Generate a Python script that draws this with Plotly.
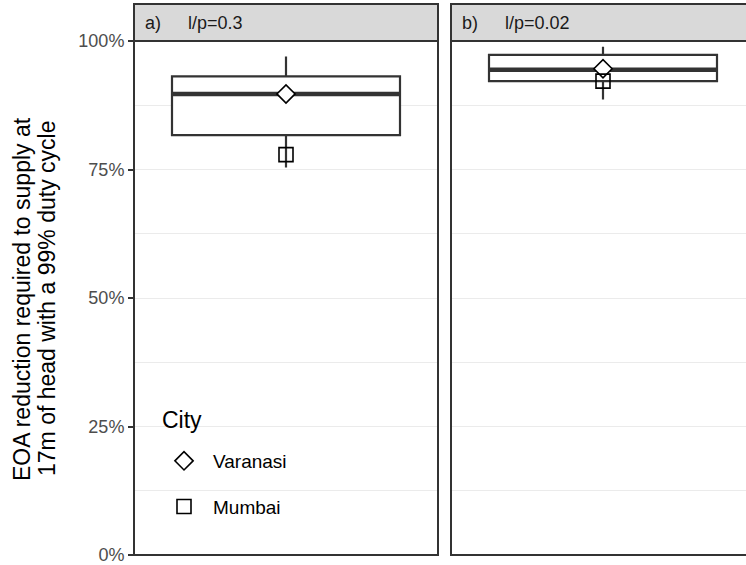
import plotly.graph_objects as go

# ---- data ----
PANEL_TAGS = ["a)", "b)"]
PANEL_LABELS = ["l/p=0.3", "l/p=0.02"]
CITIES = ["Varanasi", "Mumbai"]
LEGEND_TITLE = "City"
BOX_LOWER = [0.754, 0.886]
BOX_Q1 = [0.817, 0.922]
BOX_MEDIAN = [0.897, 0.944]
BOX_Q3 = [0.931, 0.973]
BOX_UPPER = [0.970, 0.989]
VARANASI = [0.897, 0.946]
MUMBAI = [0.779, 0.922]
Y_TICKS = [0, 0.25, 0.5, 0.75, 1.0]
Y_TICK_LABELS = ["0%", "25%", "50%", "75%", "100%"]
Y_MINOR = [0.125, 0.375, 0.625, 0.875]

# ---- layout geometry (pixels) ----
W, H = 746, 565
ML, MR, MT, MB = 134, 0, 4, 10
PW, PH = W - ML - MR, H - MT - MB
PANEL_W = 304
PANEL_LEFT = [134, 451]
STRIP_TOP, STRIP_BOT, PANEL_BOT = 4, 41, 555
BOX_W = 0.9
HALF_RANGE = 0.6

def px_x(p):
    return (p - ML) / PW

def px_y(p):
    return (H - MB - p) / PH

BORDER = "#333333"
GRID = "#EBEBEB"
FONT = "Liberation Sans, Arial, sans-serif"

fig = go.Figure()
symbols = {"Varanasi": "diamond", "Mumbai": "square-open"}
city_vals = {"Varanasi": VARANASI, "Mumbai": MUMBAI}

for i in range(2):
    xa = "x" if i == 0 else "x2"
    ya = "y" if i == 0 else "y2"
    fig.add_trace(go.Box(
        x=[0], q1=[BOX_Q1[i]], median=[BOX_MEDIAN[i]], q3=[BOX_Q3[i]],
        lowerfence=[BOX_LOWER[i]], upperfence=[BOX_UPPER[i]],
        width=BOX_W, whiskerwidth=0, boxpoints=False,
        fillcolor="white", line=dict(color=BORDER, width=2.2),
        showlegend=False, hoverinfo="skip", xaxis=xa, yaxis=ya))
    fig.add_trace(go.Scatter(
        x=[-BOX_W / 2, BOX_W / 2], y=[BOX_MEDIAN[i], BOX_MEDIAN[i]],
        mode="lines", line=dict(color=BORDER, width=4.5),
        showlegend=False, hoverinfo="skip", xaxis=xa, yaxis=ya))
    for c in CITIES:
        m = dict(symbol=symbols[c], size=14,
                 line=dict(color="black", width=1.6))
        m["color"] = "white" if c == "Varanasi" else "black"
        fig.add_trace(go.Scatter(
            x=[0], y=[city_vals[c][i]], mode="markers", name=c,
            marker=m, legendgroup=c, showlegend=(i == 0),
            xaxis=xa, yaxis=ya))

ydom = [0, px_y(STRIP_BOT)]
common_y = dict(range=[0, 1], domain=ydom, showgrid=True, gridcolor=GRID,
                gridwidth=1.2, tickvals=Y_TICKS, zeroline=False,
                minor=dict(tickvals=Y_MINOR, showgrid=True, gridcolor=GRID,
                           gridwidth=0.8, ticks=""),
                showline=False, automargin=False)
fig.update_layout(
    width=W, height=H,
    margin=dict(l=ML, r=MR, t=MT, b=MB, autoexpand=False),
    paper_bgcolor="white", plot_bgcolor="white",
    font=dict(family=FONT, color="black"),
    xaxis=dict(domain=[0, px_x(PANEL_LEFT[0] + PANEL_W)],
               range=[-HALF_RANGE, HALF_RANGE], showgrid=False,
               showticklabels=False, ticks="", zeroline=False, automargin=False),
    xaxis2=dict(domain=[px_x(PANEL_LEFT[1]), 1],
                range=[-HALF_RANGE, -HALF_RANGE + 2 * HALF_RANGE * (W - PANEL_LEFT[1]) / PANEL_W],
                showgrid=False, showticklabels=False, ticks="", zeroline=False,
                anchor="y2", automargin=False),
    yaxis=dict(**common_y, ticktext=Y_TICK_LABELS, ticks="outside",
               ticklen=5, tickwidth=2, tickcolor=BORDER,
               ticklabeloverflow="allow",
               tickfont=dict(size=18, color="#4D4D4D")),
    yaxis2=dict(**common_y, showticklabels=False, ticks="", anchor="x2"),
    legend=dict(x=px_x(155), y=px_y(442), xanchor="left", yanchor="top",
                bgcolor="rgba(0,0,0,0)", borderwidth=0, itemwidth=48,
                font=dict(size=19, color="black"),
                tracegroupgap=18),
    showlegend=True,
)

shapes = [dict(type="rect", xref="paper", yref="paper",
               x0=px_x(146), x1=px_x(304), y0=px_y(545), y1=px_y(398),
               fillcolor="white", line=dict(width=0), layer="between")]
annotations = [dict(text=LEGEND_TITLE, xref="paper", yref="paper",
                    x=px_x(160), y=px_y(420), xanchor="left", yanchor="middle",
                    showarrow=False, font=dict(size=23, color="black"))]
for i in range(2):
    x0 = px_x(PANEL_LEFT[i])
    x1 = px_x(PANEL_LEFT[i] + PANEL_W)
    shapes.append(dict(type="rect", xref="paper", yref="paper",
                       x0=x0, x1=x1, y0=px_y(STRIP_BOT), y1=px_y(STRIP_TOP),
                       fillcolor="#D9D9D9", line=dict(color=BORDER, width=2),
                       layer="above"))
    shapes.append(dict(type="rect", xref="paper", yref="paper",
                       x0=x0, x1=x1, y0=0, y1=px_y(STRIP_BOT),
                       fillcolor="rgba(0,0,0,0)", line=dict(color=BORDER, width=2),
                       layer="above"))
    ymid = px_y((STRIP_TOP + STRIP_BOT) / 2)
    annotations.append(dict(text=PANEL_TAGS[i], xref="paper", yref="paper",
                            x=px_x(PANEL_LEFT[i] + 9), y=ymid, xanchor="left",
                            yanchor="middle", showarrow=False,
                            font=dict(size=18, color="#1A1A1A")))
    annotations.append(dict(text=PANEL_LABELS[i], xref="paper", yref="paper",
                            x=px_x(PANEL_LEFT[i] + 52), y=ymid, xanchor="left",
                            yanchor="middle", showarrow=False,
                            font=dict(size=18, color="#1A1A1A")))

TITLE_LINES = ["EOA reduction required to supply at",
               "17m of head with a 99% duty cycle"]
for j, t in enumerate(TITLE_LINES):
    annotations.append(dict(text=t, xref="paper", yref="paper",
                            x=px_x(22 + 25 * j), y=px_y(299), xanchor="center",
                            yanchor="middle", textangle=-90, showarrow=False,
                            font=dict(size=23, color="black")))

fig.update_layout(shapes=shapes, annotations=annotations)
fig.write_html("out.html", config={"displayModeBar": False},
               post_script="document.body.style.margin='0';")
